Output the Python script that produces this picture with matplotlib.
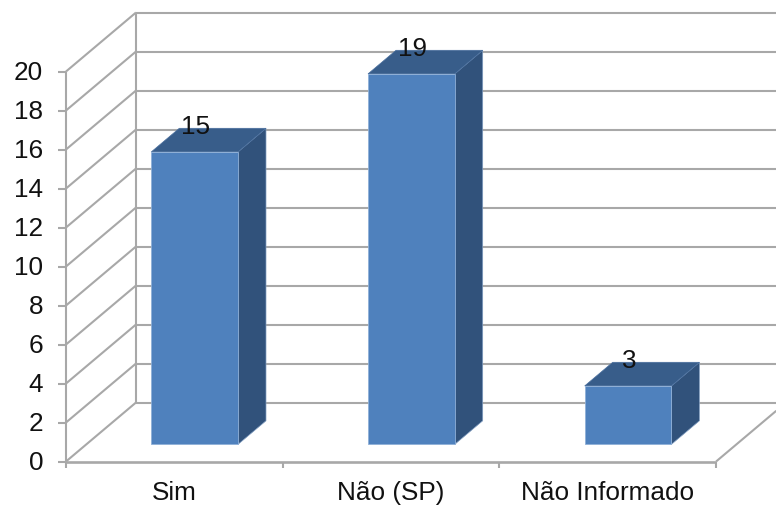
import matplotlib
matplotlib.use("Agg")
import matplotlib.pyplot as plt
from matplotlib.patches import Polygon

categories = ["Sim", "Não (SP)", "Não Informado"]
values = [15, 19, 3]
y_ticks = [0, 2, 4, 6, 8, 10, 12, 14, 16, 18, 20]

W, H = 776, 506
# front floor corner and how far the back wall is shifted, in pixels
X0, Y0 = 66, 462.5
CAT_W = 216.7
UNIT = 19.5
DX, DY = 70, -59
BAR_W = 0.4
D_FRONT, D_BACK = 0.29, 0.69
GRID = "#a8a8a8"
TEXT = "#111111"
FS = 18.8


def pt(cat, val, depth=0):
    # category position, value, depth (0 front, 1 back wall) -> pixel
    return (X0 + cat * CAT_W + depth * DX, Y0 - val * UNIT + depth * DY)


def line(ax, a, b, lw=1.5):
    ax.plot([a[0], b[0]], [a[1], b[1]], color=GRID, lw=lw, solid_capstyle="butt", zorder=1)


fig = plt.figure(figsize=(W / 100, H / 100), dpi=100)
ax = fig.add_axes([0, 0, 1, 1])
ax.set_xlim(0, W)
ax.set_ylim(H, 0)
ax.axis("off")

plt.rcParams["font.family"] = ["Liberation Sans", "DejaVu Sans"]

n = len(categories)
# grid on the side wall and back wall
for v in y_ticks:
    line(ax, pt(0, v), pt(0, v, 1))
    a = pt(0, v, 1)
    line(ax, a, (W, a[1]))
    t = pt(0, v)
    line(ax, (t[0] - 8, t[1]), t)
    ax.text(43, t[1] + 0.5, str(v), ha="right", va="center", fontsize=FS, color=TEXT)

line(ax, pt(0, 0), pt(0, 20))
line(ax, pt(0, 0, 1), pt(0, 20, 1))
line(ax, pt(0, 0), pt(n, 0), lw=1.9)
line(ax, pt(n, 0), pt(n, 0, 0.86))
for i in range(n + 1):
    p = pt(i, 0)
    line(ax, p, (p[0], p[1] + 6))

# bars
for i, (cat, val) in enumerate(zip(categories, values)):
    l = i + (1 - BAR_W) / 2
    r = l + BAR_W
    front = [pt(l, 0, D_FRONT), pt(r, 0, D_FRONT), pt(r, val, D_FRONT), pt(l, val, D_FRONT)]
    side = [pt(r, 0, D_FRONT), pt(r, 0, D_BACK), pt(r, val, D_BACK), pt(r, val, D_FRONT)]
    top = [pt(l, val, D_FRONT), pt(r, val, D_FRONT), pt(r, val, D_BACK), pt(l, val, D_BACK)]
    ax.add_patch(Polygon(side, fc="#31527b", ec="#7f9cc0", lw=0.5, zorder=3))
    ax.add_patch(Polygon(top, fc="#385d8a", ec="#4a6f9e", lw=0.5, zorder=3))
    ax.add_patch(Polygon(front, fc="#4f81bd", ec="#8fb0d8", lw=0.6, zorder=4))
    c = pt(i + 0.5, val, D_FRONT)
    ax.text(c[0] + 1, c[1] - 26, str(val), ha="center", va="center", fontsize=FS, color=TEXT, zorder=5)
    b = pt(i + 0.5, 0)
    # baseline sits as low as it can with the brackets still inside the picture
    ax.text(b[0], 500.5, cat, ha="center", va="baseline", fontsize=FS, color=TEXT)

fig.savefig("out.png", dpi=100)
